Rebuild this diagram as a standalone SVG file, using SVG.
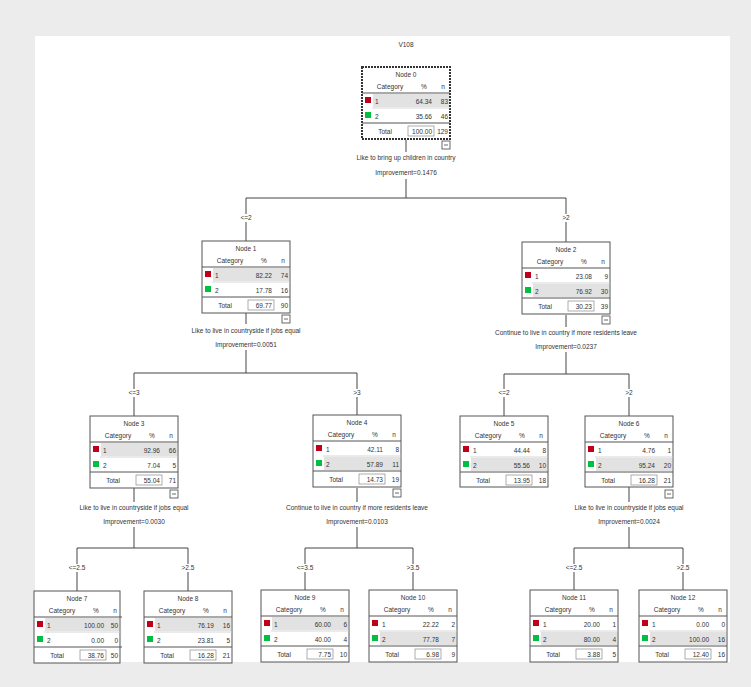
<svg xmlns="http://www.w3.org/2000/svg" width="751" height="687" viewBox="0 0 751 687">
<style>
text{font-family:"Liberation Sans",Arial,sans-serif;font-size:6.5px;fill:#333}
.m{text-anchor:middle}
.r{text-anchor:end}
.box{fill:#fff;stroke:#555;stroke-width:1}
.sel{fill:#fff;stroke:#333;stroke-width:2;stroke-dasharray:2 1}
.dl{stroke:#555;stroke-width:1}
.ll{stroke:#ccc;stroke-width:0.8}
.hi{fill:#e2e2e2}
.c1{fill:#c0001a}
.c2{fill:#00c040}
.tb{fill:none;stroke:#777;stroke-width:0.6}
.cn{stroke:#444;stroke-width:1;fill:none}
.ic{fill:#fff;stroke:#444;stroke-width:0.8}
</style>
<rect x="0" y="0" width="751" height="687" fill="#ececec"/>
<rect x="35" y="36" width="695" height="626" fill="#fff"/>
<text x="406" y="47" class="m">V108</text>

<g id="connectors">
<path class="cn" d="M406 140V152M406 179V198M246 198H566M246 198V241M566 198V242"/>
<path class="cn" d="M246 313V324M246 350V373M134 373H357M134 373V416M357 373V415"/>
<path class="cn" d="M566 315V327M566 352V374M504 374H629M504 374V416M629 374V416"/>
<path class="cn" d="M134 488V502M134 527V548M77 548H188M77 548V591M188 548V591"/>
<path class="cn" d="M357 488V502M357 527V548M305 548H413M305 548V590M413 548V590"/>
<path class="cn" d="M629 487V502M629 527V548M574 548H683M574 548V590M683 548V590"/>
</g>

<g id="labels">
<text x="406" y="160" class="m">Like to bring up children in country</text>
<text x="406" y="175" class="m">Improvement=0.1476</text>
<text x="246" y="333" class="m">Like to live in countryside if jobs equal</text>
<text x="246" y="347" class="m">Improvement=0.0051</text>
<text x="566" y="335" class="m">Continue to live in country if more residents leave</text>
<text x="566" y="349" class="m">Improvement=0.0237</text>
<text x="134" y="510" class="m">Like to live in countryside if jobs equal</text>
<text x="134" y="524" class="m">Improvement=0.0030</text>
<text x="357" y="510" class="m">Continue to live in country if more residents leave</text>
<text x="357" y="524" class="m">Improvement=0.0103</text>
<text x="629" y="510" class="m">Like to live in countryside if jobs equal</text>
<text x="629" y="524" class="m">Improvement=0.0024</text>
<g>
<rect x="236" y="214" width="20" height="8" fill="#fff"/><text x="246" y="220" class="m">&lt;=2</text>
<rect x="556" y="214" width="20" height="8" fill="#fff"/><text x="566" y="220" class="m">&gt;2</text>
<rect x="124" y="389" width="20" height="8" fill="#fff"/><text x="134" y="395" class="m">&lt;=3</text>
<rect x="347" y="389" width="20" height="8" fill="#fff"/><text x="357" y="395" class="m">&gt;3</text>
<rect x="494" y="389" width="20" height="8" fill="#fff"/><text x="504" y="395" class="m">&lt;=2</text>
<rect x="619" y="389" width="20" height="8" fill="#fff"/><text x="629" y="395" class="m">&gt;2</text>
<rect x="65" y="564" width="24" height="8" fill="#fff"/><text x="77" y="570" class="m">&lt;=2.5</text>
<rect x="176" y="564" width="24" height="8" fill="#fff"/><text x="188" y="570" class="m">&gt;2.5</text>
<rect x="293" y="564" width="24" height="8" fill="#fff"/><text x="305" y="570" class="m">&lt;=3.5</text>
<rect x="401" y="564" width="24" height="8" fill="#fff"/><text x="413" y="570" class="m">&gt;3.5</text>
<rect x="562" y="564" width="24" height="8" fill="#fff"/><text x="574" y="570" class="m">&lt;=2.5</text>
<rect x="671" y="564" width="24" height="8" fill="#fff"/><text x="683" y="570" class="m">&gt;2.5</text>
</g>
</g>

<defs>
<g id="frame">
<line class="dl" x1="0" y1="26" x2="88" y2="26"/>
<line class="ll" x1="10" y1="41" x2="88" y2="41"/>
<line class="dl" x1="0" y1="56" x2="88" y2="56"/>
<text x="28" y="22" class="m">Category</text>
<text x="62" y="22" class="m">%</text>
<text x="81" y="22" class="m">n</text>
<rect class="c1" x="3" y="30" width="6" height="6"/>
<rect class="c2" x="3" y="45" width="6" height="6"/>
<text x="13" y="37">1</text>
<text x="13" y="52">2</text>
<text x="23" y="67" class="m">Total</text>
<rect class="tb" x="46" y="59" width="26" height="10"/>
</g>
<g id="icon">
<rect class="ic" x="0" y="0" width="8" height="8"/>
<line x1="2" y1="4" x2="6" y2="4" stroke="#444" stroke-width="0.8"/>
</g>
</defs>

<g id="node0" transform="translate(362,67)">
<rect class="sel" x="0" y="0" width="88" height="72"/>
<rect class="hi" x="11" y="27" width="76" height="13"/>
<use href="#frame"/>
<text x="44" y="10" class="m">Node 0</text>
<text x="70" y="37" class="r">64.34</text><text x="86" y="37" class="r">83</text>
<text x="70" y="52" class="r">35.66</text><text x="86" y="52" class="r">46</text>
<text x="70" y="67" class="r">100.00</text><text x="86" y="67" class="r">129</text>
<use href="#icon" x="80" y="74"/>
</g>

<g id="node1" transform="translate(202,241)">
<rect class="box" x="0" y="0" width="88" height="72"/>
<rect class="hi" x="11" y="27" width="76" height="13"/>
<use href="#frame"/>
<text x="44" y="10" class="m">Node 1</text>
<text x="70" y="37" class="r">82.22</text><text x="86" y="37" class="r">74</text>
<text x="70" y="52" class="r">17.78</text><text x="86" y="52" class="r">16</text>
<text x="70" y="67" class="r">69.77</text><text x="86" y="67" class="r">90</text>
<use href="#icon" x="80" y="74"/>
</g>

<g id="node2" transform="translate(522,242)">
<rect class="box" x="0" y="0" width="88" height="72"/>
<rect class="hi" x="11" y="42" width="76" height="13"/>
<use href="#frame"/>
<text x="44" y="10" class="m">Node 2</text>
<text x="70" y="37" class="r">23.08</text><text x="86" y="37" class="r">9</text>
<text x="70" y="52" class="r">76.92</text><text x="86" y="52" class="r">30</text>
<text x="70" y="67" class="r">30.23</text><text x="86" y="67" class="r">39</text>
<use href="#icon" x="80" y="74"/>
</g>

<g id="node3" transform="translate(90,416)">
<rect class="box" x="0" y="0" width="88" height="72"/>
<rect class="hi" x="11" y="27" width="76" height="13"/>
<use href="#frame"/>
<text x="44" y="10" class="m">Node 3</text>
<text x="70" y="37" class="r">92.96</text><text x="86" y="37" class="r">66</text>
<text x="70" y="52" class="r">7.04</text><text x="86" y="52" class="r">5</text>
<text x="70" y="67" class="r">55.04</text><text x="86" y="67" class="r">71</text>
<use href="#icon" x="80" y="74"/>
</g>

<g id="node4" transform="translate(313,415)">
<rect class="box" x="0" y="0" width="88" height="72"/>
<rect class="hi" x="11" y="42" width="76" height="13"/>
<use href="#frame"/>
<text x="44" y="10" class="m">Node 4</text>
<text x="70" y="37" class="r">42.11</text><text x="86" y="37" class="r">8</text>
<text x="70" y="52" class="r">57.89</text><text x="86" y="52" class="r">11</text>
<text x="70" y="67" class="r">14.73</text><text x="86" y="67" class="r">19</text>
<use href="#icon" x="80" y="74"/>
</g>

<g id="node5" transform="translate(460,416)">
<rect class="box" x="0" y="0" width="88" height="71"/>
<rect class="hi" x="11" y="42" width="76" height="13"/>
<use href="#frame"/>
<text x="44" y="10" class="m">Node 5</text>
<text x="70" y="37" class="r">44.44</text><text x="86" y="37" class="r">8</text>
<text x="70" y="52" class="r">55.56</text><text x="86" y="52" class="r">10</text>
<text x="70" y="67" class="r">13.95</text><text x="86" y="67" class="r">18</text>
</g>

<g id="node6" transform="translate(585,416)">
<rect class="box" x="0" y="0" width="88" height="71"/>
<rect class="hi" x="11" y="42" width="76" height="13"/>
<use href="#frame"/>
<text x="44" y="10" class="m">Node 6</text>
<text x="70" y="37" class="r">4.76</text><text x="86" y="37" class="r">1</text>
<text x="70" y="52" class="r">95.24</text><text x="86" y="52" class="r">20</text>
<text x="70" y="67" class="r">16.28</text><text x="86" y="67" class="r">21</text>
<use href="#icon" x="80" y="74"/>
</g>

<g id="node7" transform="translate(34,591)">
<rect class="box" x="0" y="0" width="86" height="72"/>
<rect class="hi" x="11" y="27" width="74" height="13"/>
<use href="#frame"/>
<text x="43" y="10" class="m">Node 7</text>
<text x="70" y="37" class="r">100.00</text><text x="84" y="37" class="r">50</text>
<text x="70" y="52" class="r">0.00</text><text x="84" y="52" class="r">0</text>
<text x="70" y="67" class="r">38.76</text><text x="84" y="67" class="r">50</text>
</g>

<g id="node8" transform="translate(144,591)">
<rect class="box" x="0" y="0" width="88" height="72"/>
<rect class="hi" x="11" y="27" width="76" height="13"/>
<use href="#frame"/>
<text x="44" y="10" class="m">Node 8</text>
<text x="70" y="37" class="r">76.19</text><text x="86" y="37" class="r">16</text>
<text x="70" y="52" class="r">23.81</text><text x="86" y="52" class="r">5</text>
<text x="70" y="67" class="r">16.28</text><text x="86" y="67" class="r">21</text>
</g>

<g id="node9" transform="translate(261,590)">
<rect class="box" x="0" y="0" width="88" height="72"/>
<rect class="hi" x="11" y="27" width="76" height="13"/>
<use href="#frame"/>
<text x="44" y="10" class="m">Node 9</text>
<text x="70" y="37" class="r">60.00</text><text x="86" y="37" class="r">6</text>
<text x="70" y="52" class="r">40.00</text><text x="86" y="52" class="r">4</text>
<text x="70" y="67" class="r">7.75</text><text x="86" y="67" class="r">10</text>
</g>

<g id="node10" transform="translate(369,590)">
<rect class="box" x="0" y="0" width="88" height="72"/>
<rect class="hi" x="11" y="42" width="76" height="13"/>
<use href="#frame"/>
<text x="44" y="10" class="m">Node 10</text>
<text x="70" y="37" class="r">22.22</text><text x="86" y="37" class="r">2</text>
<text x="70" y="52" class="r">77.78</text><text x="86" y="52" class="r">7</text>
<text x="70" y="67" class="r">6.98</text><text x="86" y="67" class="r">9</text>
</g>

<g id="node11" transform="translate(530,590)">
<rect class="box" x="0" y="0" width="88" height="72"/>
<rect class="hi" x="11" y="42" width="76" height="13"/>
<use href="#frame"/>
<text x="44" y="10" class="m">Node 11</text>
<text x="70" y="37" class="r">20.00</text><text x="86" y="37" class="r">1</text>
<text x="70" y="52" class="r">80.00</text><text x="86" y="52" class="r">4</text>
<text x="70" y="67" class="r">3.88</text><text x="86" y="67" class="r">5</text>
</g>

<g id="node12" transform="translate(639,590)">
<rect class="box" x="0" y="0" width="88" height="72"/>
<rect class="hi" x="11" y="42" width="76" height="13"/>
<use href="#frame"/>
<text x="44" y="10" class="m">Node 12</text>
<text x="70" y="37" class="r">0.00</text><text x="86" y="37" class="r">0</text>
<text x="70" y="52" class="r">100.00</text><text x="86" y="52" class="r">16</text>
<text x="70" y="67" class="r">12.40</text><text x="86" y="67" class="r">16</text>
</g>
</svg>
